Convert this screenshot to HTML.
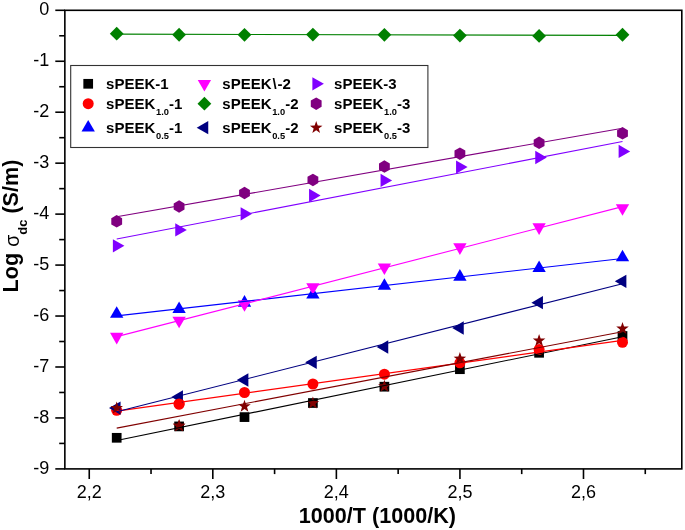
<!DOCTYPE html><html><head><meta charset="utf-8"><style>html,body{margin:0;padding:0;background:#fff;width:685px;height:530px;overflow:hidden}svg{display:block;will-change:transform}text{font-family:"Liberation Sans",sans-serif}</style></head><body>
<svg width="685" height="530" viewBox="0 0 685 530">
<rect width="685" height="530" fill="#fff"/>
<g stroke="#000" stroke-width="1.6" stroke-linecap="butt"><rect x="64.85" y="10.3" width="616.95" height="458.6" fill="none" stroke="#000" stroke-width="1.6"/><line x1="55.3" y1="10.3" x2="64.85" y2="10.3"/><line x1="55.3" y1="61.26" x2="64.85" y2="61.26"/><line x1="55.3" y1="112.21" x2="64.85" y2="112.21"/><line x1="55.3" y1="163.17" x2="64.85" y2="163.17"/><line x1="55.3" y1="214.12" x2="64.85" y2="214.12"/><line x1="55.3" y1="265.08" x2="64.85" y2="265.08"/><line x1="55.3" y1="316.03" x2="64.85" y2="316.03"/><line x1="55.3" y1="366.99" x2="64.85" y2="366.99"/><line x1="55.3" y1="417.94" x2="64.85" y2="417.94"/><line x1="55.3" y1="468.9" x2="64.85" y2="468.9"/><line x1="59.2" y1="35.78" x2="64.85" y2="35.78"/><line x1="59.2" y1="86.73" x2="64.85" y2="86.73"/><line x1="59.2" y1="137.69" x2="64.85" y2="137.69"/><line x1="59.2" y1="188.64" x2="64.85" y2="188.64"/><line x1="59.2" y1="239.6" x2="64.85" y2="239.6"/><line x1="59.2" y1="290.56" x2="64.85" y2="290.56"/><line x1="59.2" y1="341.51" x2="64.85" y2="341.51"/><line x1="59.2" y1="392.47" x2="64.85" y2="392.47"/><line x1="59.2" y1="443.42" x2="64.85" y2="443.42"/><line x1="89.25" y1="468.9" x2="89.25" y2="479"/><line x1="212.81" y1="468.9" x2="212.81" y2="479"/><line x1="336.37" y1="468.9" x2="336.37" y2="479"/><line x1="459.93" y1="468.9" x2="459.93" y2="479"/><line x1="583.49" y1="468.9" x2="583.49" y2="479"/><line x1="151.03" y1="468.9" x2="151.03" y2="474.1"/><line x1="274.59" y1="468.9" x2="274.59" y2="474.1"/><line x1="398.15" y1="468.9" x2="398.15" y2="474.1"/><line x1="521.71" y1="468.9" x2="521.71" y2="474.1"/><line x1="645.27" y1="468.9" x2="645.27" y2="474.1"/></g>
<g font-size="18" fill="#000"><text x="49.3" y="14.9" text-anchor="end">0</text><text x="49.3" y="65.86" text-anchor="end">-1</text><text x="49.3" y="116.81" text-anchor="end">-2</text><text x="49.3" y="167.77" text-anchor="end">-3</text><text x="49.3" y="218.72" text-anchor="end">-4</text><text x="49.3" y="269.68" text-anchor="end">-5</text><text x="49.3" y="320.63" text-anchor="end">-6</text><text x="49.3" y="371.59" text-anchor="end">-7</text><text x="49.3" y="422.54" text-anchor="end">-8</text><text x="49.3" y="473.5" text-anchor="end">-9</text><text x="89.25" y="498.4" text-anchor="middle">2,2</text><text x="212.81" y="498.4" text-anchor="middle">2,3</text><text x="336.37" y="498.4" text-anchor="middle">2,4</text><text x="459.93" y="498.4" text-anchor="middle">2,5</text><text x="583.49" y="498.4" text-anchor="middle">2,6</text></g>
<text x="377.4" y="523" font-size="21.6" font-weight="bold" text-anchor="middle">1000/T (1000/K)</text>
<text transform="translate(18.0,292.4) rotate(-90)" font-size="21.6" font-weight="bold">Log <tspan font-weight="normal" font-size="19.5" dy="0.8">&#963;</tspan><tspan font-size="13" dy="7.8">dc</tspan><tspan dy="-8.6"> (S/m)</tspan></text>
<rect x="111.85" y="432.95" width="9.7" height="9.7" fill="#000000"/><rect x="174.25" y="421.55" width="9.7" height="9.7" fill="#000000"/><rect x="239.65" y="412.25" width="9.7" height="9.7" fill="#000000"/><rect x="308.05" y="398.15" width="9.7" height="9.7" fill="#000000"/><rect x="379.55" y="381.85" width="9.7" height="9.7" fill="#000000"/><rect x="455.05" y="364.35" width="9.7" height="9.7" fill="#000000"/><rect x="534.25" y="347.95" width="9.7" height="9.7" fill="#000000"/><rect x="617.65" y="331.15" width="9.7" height="9.7" fill="#000000"/><circle cx="116.7" cy="410.3" r="5.5" fill="#FF0000"/><circle cx="179.1" cy="404" r="5.5" fill="#FF0000"/><circle cx="244.5" cy="392.5" r="5.5" fill="#FF0000"/><circle cx="312.9" cy="384" r="5.5" fill="#FF0000"/><circle cx="384.4" cy="374.2" r="5.5" fill="#FF0000"/><circle cx="459.9" cy="362.8" r="5.5" fill="#FF0000"/><circle cx="539.1" cy="349.4" r="5.5" fill="#FF0000"/><circle cx="622.5" cy="342.3" r="5.5" fill="#FF0000"/><polygon points="116.7,306.2 123.37,317.75 110.03,317.75" fill="#0000FF"/><polygon points="179.1,301.4 185.77,312.95 172.43,312.95" fill="#0000FF"/><polygon points="244.5,295.1 251.17,306.65 237.83,306.65" fill="#0000FF"/><polygon points="312.9,286.9 319.57,298.45 306.23,298.45" fill="#0000FF"/><polygon points="384.4,278.2 391.07,289.75 377.73,289.75" fill="#0000FF"/><polygon points="459.9,269.1 466.57,280.65 453.23,280.65" fill="#0000FF"/><polygon points="539.1,260.4 545.77,271.95 532.43,271.95" fill="#0000FF"/><polygon points="622.5,249.8 629.17,261.35 615.83,261.35" fill="#0000FF"/><polygon points="116.7,344.4 123.37,332.85 110.03,332.85" fill="#FF00FF"/><polygon points="179.1,328.3 185.77,316.75 172.43,316.75" fill="#FF00FF"/><polygon points="244.5,311.7 251.17,300.15 237.83,300.15" fill="#FF00FF"/><polygon points="312.9,294.8 319.57,283.25 306.23,283.25" fill="#FF00FF"/><polygon points="384.4,275 391.07,263.45 377.73,263.45" fill="#FF00FF"/><polygon points="459.9,254.9 466.57,243.35 453.23,243.35" fill="#FF00FF"/><polygon points="539.1,234.9 545.77,223.35 532.43,223.35" fill="#FF00FF"/><polygon points="622.5,215.7 629.17,204.15 615.83,204.15" fill="#FF00FF"/><polygon points="116.7,26.75 123.6,33.65 116.7,40.55 109.8,33.65" fill="#008000"/><polygon points="179.1,27.85 186,34.75 179.1,41.65 172.2,34.75" fill="#008000"/><polygon points="244.5,27.95 251.4,34.85 244.5,41.75 237.6,34.85" fill="#008000"/><polygon points="312.9,27.7 319.8,34.6 312.9,41.5 306,34.6" fill="#008000"/><polygon points="384.4,27.95 391.3,34.85 384.4,41.75 377.5,34.85" fill="#008000"/><polygon points="459.9,28.65 466.8,35.55 459.9,42.45 453,35.55" fill="#008000"/><polygon points="539.1,29 546,35.9 539.1,42.8 532.2,35.9" fill="#008000"/><polygon points="622.5,27.85 629.4,34.75 622.5,41.65 615.6,34.75" fill="#008000"/><polygon points="109,408.1 120.55,401.43 120.55,414.77" fill="#000080"/><polygon points="171.4,397 182.95,390.33 182.95,403.67" fill="#000080"/><polygon points="236.8,380 248.35,373.33 248.35,386.67" fill="#000080"/><polygon points="305.2,362.3 316.75,355.63 316.75,368.97" fill="#000080"/><polygon points="376.7,347 388.25,340.33 388.25,353.67" fill="#000080"/><polygon points="452.2,328 463.75,321.33 463.75,334.67" fill="#000080"/><polygon points="531.4,302.7 542.95,296.03 542.95,309.37" fill="#000080"/><polygon points="614.8,281.3 626.35,274.63 626.35,287.97" fill="#000080"/><polygon points="124.4,245.8 112.85,239.13 112.85,252.47" fill="#8000FF"/><polygon points="186.8,229.9 175.25,223.23 175.25,236.57" fill="#8000FF"/><polygon points="252.2,213.8 240.65,207.13 240.65,220.47" fill="#8000FF"/><polygon points="320.6,195.5 309.05,188.83 309.05,202.17" fill="#8000FF"/><polygon points="392.1,180.4 380.55,173.73 380.55,187.07" fill="#8000FF"/><polygon points="467.6,167.1 456.05,160.43 456.05,173.77" fill="#8000FF"/><polygon points="546.8,157.5 535.25,150.83 535.25,164.17" fill="#8000FF"/><polygon points="630.2,151.4 618.65,144.73 618.65,158.07" fill="#8000FF"/><polygon points="116.7,215.05 122.11,218.18 122.11,224.43 116.7,227.55 111.29,224.43 111.29,218.18" fill="#800080"/><polygon points="179.1,200.25 184.51,203.38 184.51,209.62 179.1,212.75 173.69,209.62 173.69,203.38" fill="#800080"/><polygon points="244.5,186.75 249.91,189.88 249.91,196.12 244.5,199.25 239.09,196.12 239.09,189.88" fill="#800080"/><polygon points="312.9,173.65 318.31,176.78 318.31,183.03 312.9,186.15 307.49,183.03 307.49,176.78" fill="#800080"/><polygon points="384.4,160.35 389.81,163.47 389.81,169.72 384.4,172.85 378.99,169.72 378.99,163.47" fill="#800080"/><polygon points="459.9,147.45 465.31,150.57 465.31,156.82 459.9,159.95 454.49,156.82 454.49,150.57" fill="#800080"/><polygon points="539.1,136.55 544.51,139.68 544.51,145.93 539.1,149.05 533.69,145.93 533.69,139.68" fill="#800080"/><polygon points="622.5,127.05 627.91,130.18 627.91,136.43 622.5,139.55 617.09,136.43 617.09,130.18" fill="#800080"/><polygon points="116.7,401.5 118.25,405.96 122.98,406.06 119.21,408.92 120.58,413.44 116.7,410.74 112.82,413.44 114.19,408.92 110.42,406.06 115.15,405.96" fill="#800000"/><polygon points="179.1,419.3 180.65,423.76 185.38,423.86 181.61,426.72 182.98,431.24 179.1,428.54 175.22,431.24 176.59,426.72 172.82,423.86 177.55,423.76" fill="#800000"/><polygon points="244.5,399.7 246.05,404.16 250.78,404.26 247.01,407.12 248.38,411.64 244.5,408.94 240.62,411.64 241.99,407.12 238.22,404.26 242.95,404.16" fill="#800000"/><polygon points="312.9,396.5 314.45,400.96 319.18,401.06 315.41,403.92 316.78,408.44 312.9,405.74 309.02,408.44 310.39,403.92 306.62,401.06 311.35,400.96" fill="#800000"/><polygon points="384.4,379.8 385.95,384.26 390.68,384.36 386.91,387.22 388.28,391.74 384.4,389.04 380.52,391.74 381.89,387.22 378.12,384.36 382.85,384.26" fill="#800000"/><polygon points="459.9,352.1 461.45,356.56 466.18,356.66 462.41,359.52 463.78,364.04 459.9,361.34 456.02,364.04 457.39,359.52 453.62,356.66 458.35,356.56" fill="#800000"/><polygon points="539.1,334 540.65,338.46 545.38,338.56 541.61,341.42 542.98,345.94 539.1,343.24 535.22,345.94 536.59,341.42 532.82,338.56 537.55,338.46" fill="#800000"/><polygon points="622.5,322 624.05,326.46 628.78,326.56 625.01,329.42 626.38,333.94 622.5,331.24 618.62,333.94 619.99,329.42 616.22,326.56 620.95,326.46" fill="#800000"/><circle cx="179.1" cy="404" r="5.5" fill="#FF0000"/><polygon points="182.95,403.07 182.95,401.2 181.3,402.1" fill="#000080"/><polygon points="179.1,419.3 180.65,423.76 185.38,423.86 181.61,426.72 182.98,431.24 179.1,428.54 175.22,431.24 176.59,426.72 172.82,423.86 177.55,423.76" fill="#800000"/>
<line x1="116.7" y1="440.51" x2="622.5" y2="336.73" stroke="#000000" stroke-width="1.1"/><line x1="116.7" y1="411.11" x2="622.5" y2="340.35" stroke="#FF0000" stroke-width="1.1"/><line x1="116.7" y1="315.92" x2="622.5" y2="258.48" stroke="#0000FF" stroke-width="1.1"/><line x1="116.7" y1="336.64" x2="622.5" y2="206.6" stroke="#FF00FF" stroke-width="1.1"/><line x1="116.7" y1="34.1" x2="622.5" y2="35.4" stroke="#008000" stroke-width="1.1"/><line x1="116.7" y1="411.74" x2="622.5" y2="283.68" stroke="#000080" stroke-width="1.1"/><line x1="116.7" y1="239.08" x2="622.5" y2="141.56" stroke="#8000FF" stroke-width="1.1"/><line x1="116.7" y1="216.76" x2="622.5" y2="128.24" stroke="#800080" stroke-width="1.1"/><line x1="116.7" y1="428.09" x2="622.5" y2="331.68" stroke="#800000" stroke-width="1.1"/>
<rect x="70.7" y="65.5" width="357.2" height="82" fill="#fff" stroke="#333" stroke-width="1.1"/>
<rect x="83.35" y="78.95" width="9.7" height="9.7" fill="#000000"/><text x="106.1" y="88.9" font-size="15" font-weight="bold">sPEEK-1</text><polygon points="204.4,91.5 211.07,79.95 197.73,79.95" fill="#FF00FF"/><text x="222.3" y="88.9" font-size="15" font-weight="bold">sPEEK<tspan dx="0.9">\</tspan><tspan dx="1">-2</tspan></text><polygon points="323.9,83.8 312.35,77.13 312.35,90.47" fill="#8000FF"/><text x="334.1" y="88.9" font-size="15" font-weight="bold">sPEEK-3</text><circle cx="88.2" cy="103.7" r="5.5" fill="#FF0000"/><text x="106.1" y="109" font-size="15" font-weight="bold">sPEEK<tspan font-size="9.3" dx="0.7" dy="5.6">1.0</tspan><tspan dy="-5.6">-1</tspan></text><polygon points="204.4,96.8 211.3,103.7 204.4,110.6 197.5,103.7" fill="#008000"/><text x="222.3" y="109" font-size="15" font-weight="bold">sPEEK<tspan font-size="9.3" dx="0.7" dy="5.6">1.0</tspan><tspan dy="-5.6">-2</tspan></text><polygon points="316.2,97.45 321.61,100.58 321.61,106.83 316.2,109.95 310.79,106.83 310.79,100.58" fill="#800080"/><text x="334.1" y="109" font-size="15" font-weight="bold">sPEEK<tspan font-size="9.3" dx="0.7" dy="5.6">1.0</tspan><tspan dy="-5.6">-3</tspan></text><polygon points="88.2,120 94.87,131.55 81.53,131.55" fill="#0000FF"/><text x="106.1" y="133" font-size="15" font-weight="bold">sPEEK<tspan font-size="9.3" dx="0.7" dy="5.6">0.5</tspan><tspan dy="-5.6">-1</tspan></text><polygon points="196.7,127.7 208.25,121.03 208.25,134.37" fill="#000080"/><text x="222.3" y="133" font-size="15" font-weight="bold">sPEEK<tspan font-size="9.3" dx="0.7" dy="5.6">0.5</tspan><tspan dy="-5.6">-2</tspan></text><polygon points="316.2,121.1 317.75,125.56 322.48,125.66 318.71,128.52 320.08,133.04 316.2,130.34 312.32,133.04 313.69,128.52 309.92,125.66 314.65,125.56" fill="#800000"/><text x="334.1" y="133" font-size="15" font-weight="bold">sPEEK<tspan font-size="9.3" dx="0.7" dy="5.6">0.5</tspan><tspan dy="-5.6">-3</tspan></text>
</svg></body></html>
